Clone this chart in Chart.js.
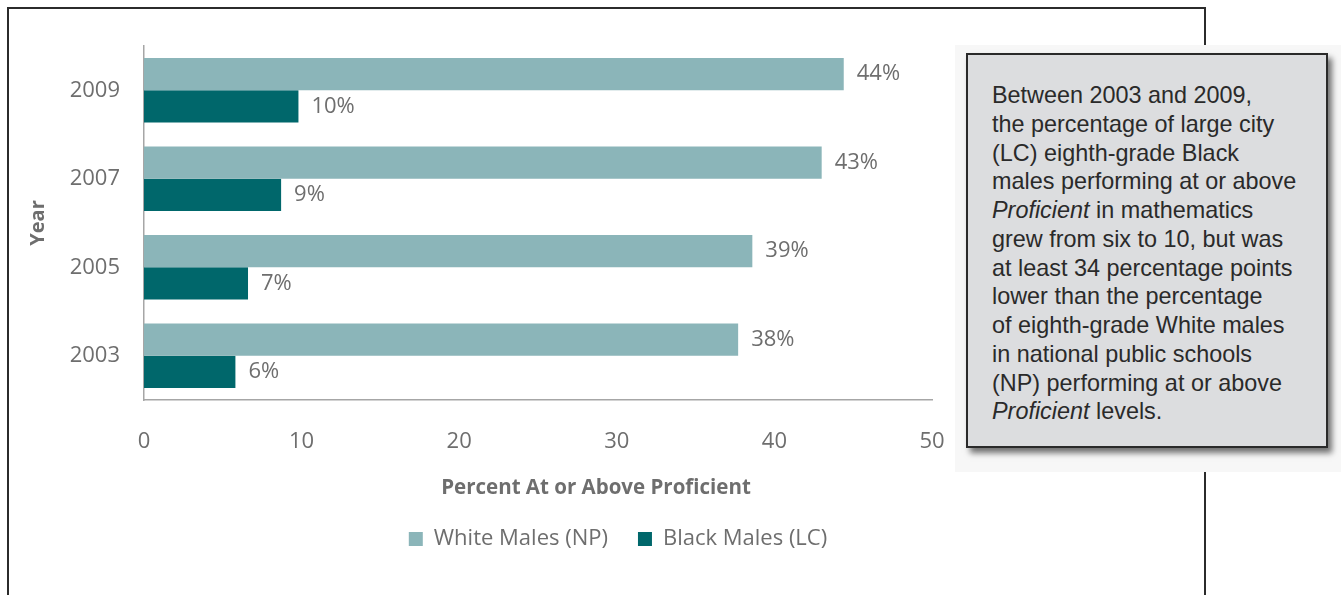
<!DOCTYPE html>
<html>
<head>
<meta charset="utf-8">
<script src="https://cdn.jsdelivr.net/npm/chart.js@4.4.1/dist/chart.umd.min.js"></script>
<style>
  html, body { margin: 0; padding: 0; background: #fff; }
  body { width: 1341px; height: 595px; position: relative; overflow: hidden; }
  #frame {
    position: absolute; left: 7px; top: 7px; width: 1199px; height: 620px;
    border: 2px solid #2b2b2b; box-sizing: border-box;
  }
  #wrap { position: absolute; left: 0; top: 0; width: 1210px; height: 595px; }
  #halo {
    position: absolute; left: 955px; top: 45px; width: 386px; height: 427px;
    background: #f7f7f7;
  }
  #note {
    position: absolute; left: 966px; top: 53px; width: 362px; height: 395px;
    box-sizing: border-box; background: #dcdddf; border: 2px solid #2a2a2a;
    box-shadow: 4px 5px 6px rgba(0,0,0,0.55);
    padding: 26px 0 0 24px;
    font-family: "Liberation Sans", Arial, sans-serif; font-size: 23.4px;
    line-height: 28.75px; color: #2a2a2a; white-space: nowrap;
  }
</style>
</head>
<body>
<div id="frame"></div>
<div id="wrap"><canvas id="chart" width="1210" height="595"></canvas></div>
<div id="halo"></div>
<div id="note">Between 2003 and 2009,<br>the percentage of large city<br>(LC) eighth-grade Black<br>males performing at or above<br><i>Proficient</i> in mathematics<br>grew from six to 10, but was<br>at least 34 percentage points<br>lower than the percentage<br>of eighth-grade White males<br>in national public schools<br>(NP) performing at or above<br><i>Proficient</i> levels.</div>
<script>
const years = ["2009", "2007", "2005", "2003"];
const whiteMalesNP = [44.4, 43.0, 38.6, 37.7];
const blackMalesLC = [9.8, 8.7, 6.6, 5.8];
const xTicks = [0, 10, 20, 30, 40, 50];

const gray = "#6e6e6e";
const font = "'Open Sans', sans-serif";

// value labels at the bar ends, e.g. "44%"
const barLabels = {
  id: "barLabels",
  afterDatasetsDraw(chart) {
    const ctx = chart.ctx;
    ctx.save();
    ctx.font = "22px " + font;
    ctx.fillStyle = gray;
    ctx.textAlign = "left";
    ctx.textBaseline = "middle";
    chart.data.datasets.forEach((ds, i) => {
      chart.getDatasetMeta(i).data.forEach((bar, j) => {
        ctx.fillText(Math.round(ds.data[j]) + "%", bar.x + 13, bar.y);
      });
    });
    ctx.restore();
  },
};

// x axis title sits off-centre in the original
const xTitle = {
  id: "xTitle",
  afterDraw(chart) {
    const ctx = chart.ctx;
    ctx.save();
    ctx.font = "bold 20.5px " + font;
    ctx.fillStyle = gray;
    ctx.textAlign = "center";
    ctx.textBaseline = "middle";
    ctx.fillText("Percent At or Above Proficient", 596, 488);
    ctx.restore();
  },
};

new Chart(document.getElementById("chart"), {
  type: "bar",
  data: {
    labels: years,
    datasets: [
      {
        label: "White Males (NP)",
        data: whiteMalesNP,
        backgroundColor: "#8bb5b9",
      },
      {
        label: "Black Males (LC)",
        data: blackMalesLC,
        backgroundColor: "#00676b",
      },
    ],
  },
  options: {
    indexAxis: "y",
    responsive: false,
    animation: false,
    datasets: { bar: { categoryPercentage: 0.73, barPercentage: 1.0 } },
    layout: { padding: { left: 26, top: 46, bottom: 35, right: 0 } },
    scales: {
      x: {
        min: 0,
        max: 50,
        afterBuildTicks: (s) => { s.ticks = xTicks.map((v) => ({ value: v })); },
        afterFit: (s) => { s.height = 98; },
        grid: { display: false, drawTicks: false },
        border: { color: "#a6a6a6", width: 1.5 },
        ticks: { color: gray, font: { family: font, size: 22 }, padding: 29 },
      },
      y: {
        afterFit: (s) => { s.width = 118; },
        grid: { display: false, drawTicks: false },
        border: { color: "#a6a6a6", width: 1.5 },
        ticks: { color: gray, font: { family: font, size: 22 }, padding: 24 },
        title: {
          display: true,
          text: "Year",
          color: gray,
          font: { family: font, size: 20, weight: "bold" },
          padding: { top: 0, bottom: 0 },
        },
      },
      spacer: {
        type: "linear",
        axis: "y",
        position: "right",
        display: true,
        afterFit: (s) => { s.width = 278; },
        grid: { display: false, drawTicks: false },
        border: { display: false },
        ticks: { display: false },
      },
    },
    plugins: {
      legend: {
        position: "bottom",
        labels: {
          color: gray,
          font: { family: font, size: 22 },
          boxWidth: 14,
          boxHeight: 14,
          padding: 30,
        },
      },
      tooltip: { enabled: false },
    },
  },
  plugins: [barLabels, xTitle],
});
</script>
</body>
</html>
